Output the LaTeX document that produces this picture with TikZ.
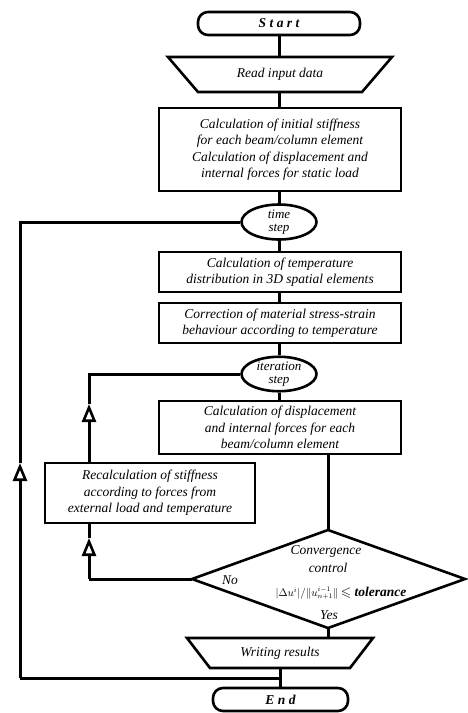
\documentclass[tikz,border=0pt]{standalone}
\usepackage{amssymb}
\usepackage{fontspec}
\setmainfont{Liberation Serif}
\usetikzlibrary{arrows.meta,shapes.geometric}
\begin{document}
\begin{tikzpicture}[x=1pt,y=-1pt,
  font=\fontsize{13.5}{16.5}\selectfont\itshape,
  box/.style={draw,line width=2.6pt,rectangle,align=center,inner sep=0pt},
  term/.style={draw,line width=2.6pt,rounded corners=10pt,inner sep=0pt},
  oval/.style={draw,line width=2.6pt,ellipse,inner sep=0pt,align=center,font=\fontsize{13}{13}\selectfont\itshape},
  shapeline/.style={draw,line width=2.6pt,line join=miter},
  lbl/.style={inner sep=0pt},
  conn/.style={line width=3pt},
  uparrow/.style={line width=3pt,-{Triangle[open,length=18pt,width=14pt,line width=2.6pt]}},
]
\useasboundingbox (0,0) rectangle (467,713);
\fill[white] (0,0) rectangle (467,713);

% Start
\node[term,minimum width=162pt,minimum height=23pt] (start) at (279,23.5) {\bfseries S t a r t};

% Read input data
\coordinate (rtop) at (279,57);
\coordinate (rbot) at (279,92);
\path[shapeline] (168,57) -- (392,57) -- (362,92) -- (198,92) -- cycle;
\node[lbl] (read) at (280,74.5) {Read input data};

% Box 1
\node[box,minimum width=242pt,minimum height=83pt] (b1) at (280,149.5)
 {Calculation of initial stiffness\\ for each beam/column element\\ Calculation of displacement and\\ internal forces for static load};

% time step
\node[oval,minimum width=75pt,minimum height=35pt] (ts) at (279,222) {time\\ step};

% Box 2
\node[box,minimum width=242pt,minimum height=40pt] (b2) at (280,272)
 {Calculation of temperature\\ distribution in 3D spatial elements};

% Box 3
\node[box,minimum width=242pt,minimum height=40pt] (b3) at (280,323)
 {Correction of material stress-strain\\ behaviour according to temperature};

% iteration step
\node[oval,minimum width=75pt,minimum height=33pt] (is) at (279,374) {iteration\\ step};

% Box 4
\node[box,minimum width=242pt,minimum height=53pt] (b4) at (280,427.5)
 {Calculation of displacement\\ and internal forces for each\\ beam/column element};

% Recalc
\node[box,minimum width=210pt,minimum height=60pt] (rc) at (150,493)
 {Recalculation of stiffness\\ according to forces from\\ external load and temperature};

% Diamond
\coordinate (dtop) at (328,530);
\coordinate (dbot) at (328,628);
\coordinate (dleft) at (192,579);
\coordinate (dright) at (465,579);
\path[shapeline] (dtop) -- (dright) -- (dbot) -- (dleft) -- cycle;
\node[lbl] (dt1) at (326,551) {Convergence};
\node[lbl] (dt2) at (328,568) {control};
\node[lbl] (dt3) at (341,593) {{\fontsize{10.5}{10.5}\selectfont$|\Delta u^{i}|/\|u^{i-1}_{n+1}\|$}\,$\leqslant$ \textbf{tolerance}};
\node[lbl] (no) at (230,580) {No};
\node[lbl] (yes) at (329,615) {Yes};

% Writing results
\coordinate (wtop) at (328,638);
\coordinate (wbot) at (280,668);
\path[shapeline] (187,638) -- (373,638) -- (350,668) -- (210,668) -- cycle;
\node[lbl] (write) at (280,653) {Writing results};

% End
\node[term,minimum width=135pt,minimum height=23pt] (end) at (280.5,699.5) {\bfseries E n d};

% main connectors
\draw[conn] (start.south) -- (rtop);
\draw[conn] (rbot) -- (b1.north -| rbot);
\draw[conn] (b1.south -| ts) -- (ts.north);
\draw[conn] (ts.south) -- (b2.north -| ts);
\draw[conn] (b2.south -| ts) -- (b3.north -| ts);
\draw[conn] (b3.south -| is) -- (is.north);
\draw[conn] (is.south) -- (b4.north -| is);
\draw[conn] (b4.south -| dtop) -- (dtop);
\draw[conn] (dbot) -- (wtop);
\draw[conn] (wbot) -- (end.north -| wbot);

% outer loop
\coordinate (ob) at (20,678);
\coordinate (oa) at (20,463);
\coordinate (ot) at (20,222);
\draw[conn] (280,678) -- (ob);
\draw[uparrow] (ob) -- (oa);
\draw[conn] (oa) -- (ot) -- (ts.west);

% inner loop
\coordinate (ib) at (89,579);
\coordinate (ia) at (89,538);
\coordinate (ia2) at (89,404);
\coordinate (it) at (89,374);
\draw[conn] (dleft) -- (ib);
\draw[uparrow] (ib) -- (ia);
\draw[conn] (ia) -- (rc.south -| ib);
\draw[uparrow] (rc.north -| ib) -- (ia2);
\draw[conn] (ia2) -- (it) -- (is.west);
\end{tikzpicture}
\end{document}
